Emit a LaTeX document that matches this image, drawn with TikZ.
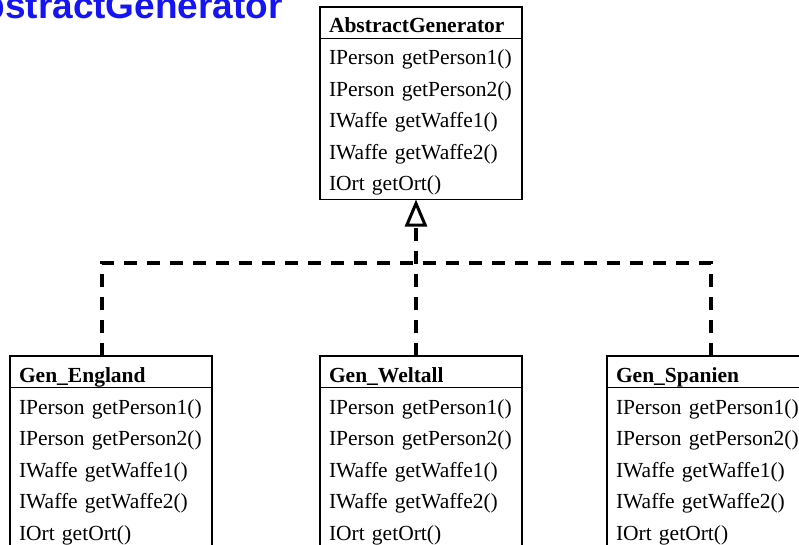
\documentclass[tikz,border=0pt]{standalone}
\usepackage{fontspec}
\setmainfont{Liberation Serif}
\newfontfamily\titlefont{Liberation Sans}
\usetikzlibrary{arrows.meta, positioning}
\definecolor{titleblue}{RGB}{20,20,245}
\hyphenpenalty=10000
\exhyphenpenalty=10000
\newcommand{\genops}{IPerson getPerson1()\\IPerson getPerson2()\\IWaffe getWaffe1()\\IWaffe getWaffe2()\\IOrt getOrt()}
\tikzset{
    classhead/.style={draw, line width=1.8pt, outer sep=0pt, minimum width=202pt, text width=184pt,
        inner xsep=9pt, inner ysep=1pt, text height=25pt, text depth=4.5pt, align=left,
        font=\bfseries\fontsize{21.5}{31.5}\selectfont},
    classops/.style={draw, line width=1.8pt, outer sep=0pt, minimum width=202pt, text width=184pt,
        inner xsep=9pt, inner ysep=0pt, text height=26.5pt, text depth=134.5pt, align=left,
        font=\fontsize{21.5}{31.5}\selectfont},
    realize/.style={dash pattern=on 13pt off 10pt, line width=3.5pt}
}
\begin{document}
\begin{tikzpicture}[x=1pt, y=-1pt]
    \useasboundingbox (0,0) rectangle (799,545);
    \clip (0,0) rectangle (799,545);

    \node[anchor=base east, inner sep=0pt, text=titleblue, font=\titlefont\bfseries\fontsize{37}{40}\selectfont] (title) at (283,19) {AbstractGenerator};

    \node[classhead, anchor=north west] (abstract) at (320,7)   {AbstractGenerator};
    \node[classops, below=0pt of abstract] (abstractops)        {\genops};

    \node[classhead, anchor=north west] (england) at (10,356)   {Gen\_England};
    \node[classops, below=0pt of england] (englandops)          {\genops};
    \node[classhead, anchor=north west] (weltall) at (320,356)  {Gen\_Weltall};
    \node[classops, below=0pt of weltall] (weltallops)          {\genops};
    \node[classhead, anchor=north west] (spanien) at (607,356)  {Gen\_Spanien};
    \node[classops, below=0pt of spanien] (spanienops)          {\genops};

    % realization
    \coordinate (bus) at (416,263);
    \coordinate (busleft) at (102,263);
    \coordinate (busright) at (711,263);
    \draw[realize, -{Triangle[open, length=27pt, width=22pt, line width=3pt]}] (weltall.north -| bus) -- (abstractops.south -| bus);
    \draw[realize] (england.north -| busleft) -- (busleft) -- (busright) -- (spanien.north -| busright);
\end{tikzpicture}
\end{document}
